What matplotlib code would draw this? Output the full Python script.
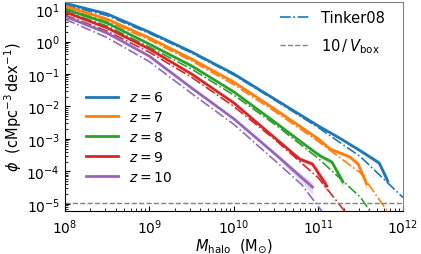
import numpy as np
import matplotlib
matplotlib.use('Agg')
import matplotlib.pyplot as plt

# log10(M_halo / Msun) and log10(phi)
redshifts = [6, 7, 8, 9, 10]
colors = ['#1f77b4', '#ff7f0e', '#2ca02c', '#d62728', '#9467bd']

sim_logm = {
    6: [8.0, 8.5, 9.0, 9.5, 10.0, 10.5, 11.0, 11.25, 11.5, 11.65, 11.72, 11.82],
    7: [8.0, 8.5, 9.0, 9.5, 10.0, 10.5, 11.0, 11.14, 11.37, 11.47, 11.57],
    8: [8.0, 8.5, 9.0, 9.5, 10.0, 10.5, 10.78, 11.02, 11.16, 11.29],
    9: [8.0, 8.5, 9.0, 9.5, 10.0, 10.5, 10.78, 10.93, 11.10],
    10: [8.0, 8.5, 9.0, 9.5, 10.0, 10.5, 10.78, 10.93],
}
sim_logphi = {
    6: [1.18, 0.85, 0.29, -0.32, -1.0, -1.80, -2.60, -2.97, -3.37, -3.62, -3.74, -4.29],
    7: [1.09, 0.69, 0.11, -0.54, -1.25, -2.11, -3.0, -3.31, -3.55, -3.77, -4.38],
    8: [1.0, 0.57, -0.08, -0.75, -1.55, -2.51, -3.06, -3.52, -3.71, -4.32],
    9: [0.91, 0.42, -0.23, -1.0, -1.89, -3.0, -3.62, -3.77, -4.45],
    10: [0.78, 0.26, -0.45, -1.43, -2.38, -3.49, -4.14, -4.48],
}

tinker_logm = {
    6: [8.0, 8.5, 9.0, 9.5, 10.0, 10.5, 11.0, 11.5, 12.0],
    7: [8.0, 8.5, 9.0, 9.5, 10.0, 10.5, 11.0, 11.5, 11.81, 12.0],
    8: [8.0, 8.5, 9.0, 9.5, 10.0, 10.5, 11.0, 11.5, 11.61, 12.0],
    9: [8.0, 8.5, 9.0, 9.5, 10.0, 10.5, 11.0, 11.31, 11.6],
    10: [8.0, 8.5, 9.0, 9.5, 10.0, 10.5, 10.8, 11.04, 11.3],
}
tinker_logphi = {
    6: [1.12, 0.80, 0.25, -0.35, -1.03, -1.83, -2.65, -3.55, -4.8],
    7: [1.02, 0.62, 0.05, -0.6, -1.33, -2.18, -3.08, -4.05, -5.2, -5.9],
    8: [0.93, 0.48, -0.17, -0.85, -1.65, -2.58, -3.6, -4.8, -5.22, -6.8],
    9: [0.82, 0.32, -0.33, -1.1, -2.0, -3.05, -4.2, -5.22, -6.3],
    10: [0.69, 0.12, -0.62, -1.6, -2.55, -3.7, -4.4, -5.22, -6.3],
}

phi_floor = 1.1e-5  # 10 / V_box
dlogm = 0.1

fig = plt.figure(figsize=(4.21, 2.55), dpi=100)
ax = fig.add_axes([0.154, 0.169, 0.803, 0.819])

sim_handles = []
for z, c in zip(redshifts, colors):
    m = 10 ** np.array(sim_logm[z])
    phi = 10 ** np.array(sim_logphi[z])
    # poisson band from number of haloes per bin
    n = phi * (10 / phi_floor) * dlogm
    err = 1 / np.sqrt(n)
    ax.fill_between(m, phi * (1 - 0.7 * err), phi * (1 + 0.7 * err), color=c, alpha=0.25, lw=0)
    h, = ax.plot(m, phi, color=c, lw=2, label=f'$z={z}$')
    sim_handles.append(h)
    ax.plot(10 ** np.array(tinker_logm[z]), 10 ** np.array(tinker_logphi[z]),
            color=c, lw=1.2, ls='-.')

ax.axhline(phi_floor, color='gray', lw=1, ls='--')

ax.set_xscale('log')
ax.set_yscale('log')
ax.set_xlim(1e8, 1e12)
ax.set_ylim(6.1e-6, 16.4)
ax.tick_params(which='both', direction='in', labelsize=10)
ax.tick_params(axis='x', which='major', pad=5)
ax.set_xlabel(r'$M_{\rm halo}$  (M$_{\odot}$)', fontsize=10.5, labelpad=0)
ax.set_ylabel(r'$\phi$  (cMpc$^{-3}\,$dex$^{-1}$)', fontsize=10.5, labelpad=2)
for s in ['top', 'right']:
    ax.spines[s].set_color('gray')

leg1 = ax.legend(handles=sim_handles, loc='lower left', bbox_to_anchor=(0.025, 0.07),
                 frameon=False, fontsize=10, handlelength=2.3, labelspacing=0.42)
ax.add_artist(leg1)
t_h, = ax.plot([], [], color=colors[0], lw=1.2, ls='-.', label='Tinker08')
v_h, = ax.plot([], [], color='gray', lw=1, ls='--', label=r'$10\,/\,V_{\rm box}$')
ax.legend(handles=[t_h, v_h], loc='upper right', bbox_to_anchor=(0.985, 1.025),
          frameon=False, fontsize=10.5, handlelength=2.0, labelspacing=0.75)

fig.savefig('out.png', dpi=100)
